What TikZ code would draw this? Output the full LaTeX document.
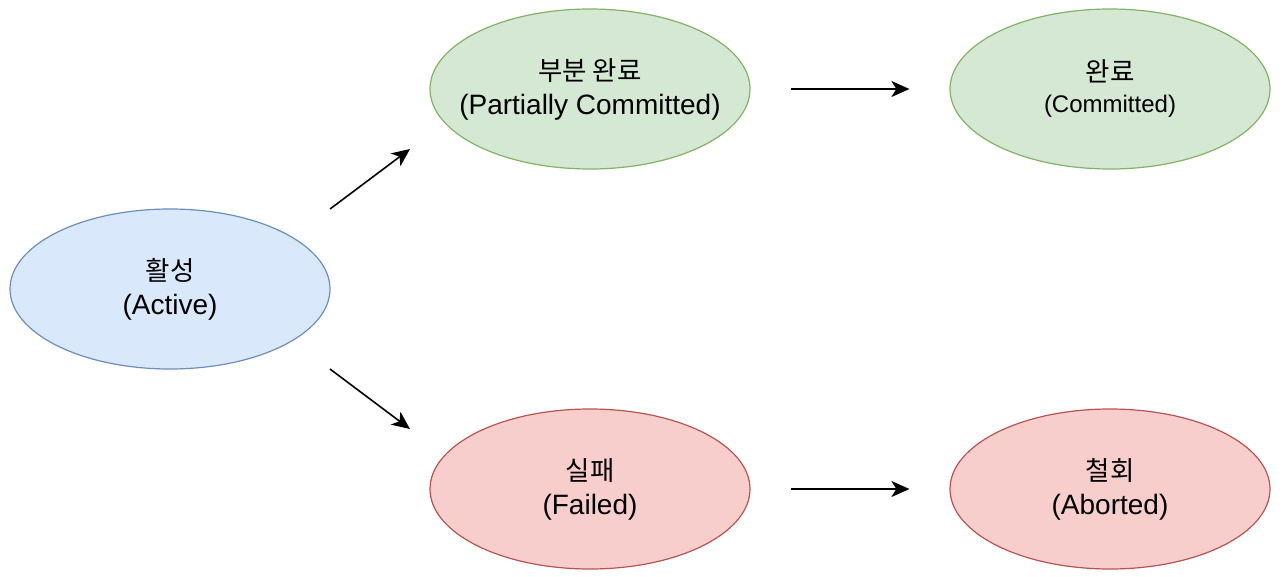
\documentclass[tikz,border=0pt]{standalone}
\usepackage{fontspec}
\setmainfont{Liberation Sans}
\newfontfamily\kr{Noto Sans CJK KR}
\usepackage{xcolor}
\usetikzlibrary{arrows.meta,shapes.geometric}
\definecolor{bluefill}{HTML}{DAE8FC}
\definecolor{blueline}{HTML}{6C8EBF}
\definecolor{greenfill}{HTML}{D5E8D4}
\definecolor{greenline}{HTML}{82B366}
\definecolor{redfill}{HTML}{F8CECC}
\definecolor{redline}{HTML}{B85450}
\newcommand{\krtext}[1]{{\kr\fontsize{26.5}{34}\selectfont #1}}

\begin{document}
\begin{tikzpicture}[x=1pt,y=-1pt,
    state/.style={ellipse,draw,line width=1.2pt,minimum width=320pt,minimum height=160pt,
                  inner xsep=-30pt,inner ysep=0pt,align=center,font=\fontsize{28}{34}\selectfont},
    arrow/.style={-{Stealth[length=18pt,width=16pt,inset=5pt]},line width=1.6pt}
]
\useasboundingbox (0,0) rectangle (1285,576);

\node[state,fill=bluefill,draw=blueline]   (active)    at (170,289)  {\krtext{활성}\\(Active)};
\node[state,fill=greenfill,draw=greenline] (partial)   at (590,89)   {\krtext{부분 완료}\\(Partially Committed)};
\node[state,fill=greenfill,draw=greenline,font=\fontsize{24}{31}\selectfont]
                                           (committed) at (1110,89)  {\krtext{완료}\\(Committed)};
\node[state,fill=redfill,draw=redline]     (failed)    at (590,489)  {\krtext{실패}\\(Failed)};
\node[state,fill=redfill,draw=redline]     (aborted)   at (1110,489) {\krtext{철회}\\(Aborted)};

\coordinate (upstart)   at (330,209);
\coordinate (upend)     at (410,149);
\coordinate (downstart) at (330,369);
\coordinate (downend)   at (410,429);

\draw[arrow] (upstart) -- (upend);
\draw[arrow] (downstart) -- (downend);
\draw[arrow,shorten <=40pt,shorten >=40pt] (partial.east) -- (committed.west);
\draw[arrow,shorten <=40pt,shorten >=40pt] (failed.east) -- (aborted.west);
\end{tikzpicture}
\end{document}
